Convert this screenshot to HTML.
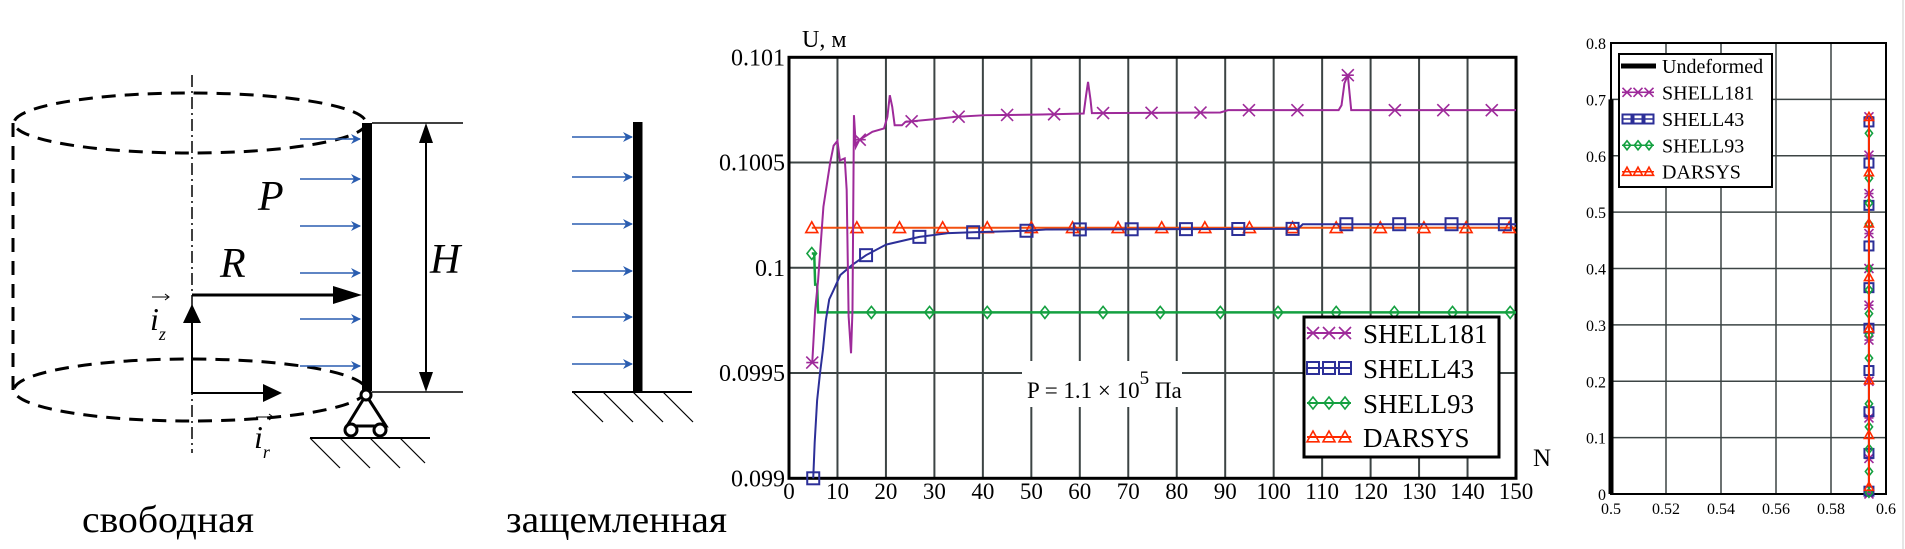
<!DOCTYPE html>
<html><head><meta charset="utf-8"><style>
html,body{margin:0;padding:0;background:#fff;}
svg{display:block;}
text{font-family:"Liberation Serif","Noto Serif CJK SC",serif;}
</style></head><body>
<svg id="root" width="1905" height="549" viewBox="0 0 1905 549" xmlns="http://www.w3.org/2000/svg">
<defs>
<marker id="blueHead" markerWidth="10" markerHeight="10" refX="9" refY="5" orient="auto" markerUnits="userSpaceOnUse"><path d="M0,0 L10,5 L0,10 L3,5 Z" fill="#2a5db0"/></marker>
</defs>
<rect width="1905" height="549" fill="#fff"/>

<g>
  <ellipse cx="190" cy="123" rx="176" ry="30" fill="none" stroke="#000" stroke-width="3" stroke-dasharray="14,9"/>
  <ellipse cx="190" cy="390" rx="176" ry="31" fill="none" stroke="#000" stroke-width="3" stroke-dasharray="14,9"/>
  <line x1="13" y1="123" x2="13" y2="390" stroke="#000" stroke-width="3" stroke-dasharray="14,9"/>
  <line x1="192" y1="75" x2="192" y2="453" stroke="#000" stroke-width="1.5" stroke-dasharray="12,4,2,4"/>
  <rect x="362" y="123" width="10" height="268" fill="#000"/>
  <g stroke="#2a5db0" stroke-width="1.6">
    <line x1="300" y1="139" x2="360" y2="139" marker-end="url(#blueHead)"/>
    <line x1="300" y1="179" x2="360" y2="179" marker-end="url(#blueHead)"/>
    <line x1="300" y1="226" x2="360" y2="226" marker-end="url(#blueHead)"/>
    <line x1="300" y1="273" x2="360" y2="273" marker-end="url(#blueHead)"/>
    <line x1="300" y1="319" x2="360" y2="319" marker-end="url(#blueHead)"/>
    <line x1="300" y1="366" x2="360" y2="366" marker-end="url(#blueHead)"/>
  </g>
  <text x="258" y="210" font-size="42" font-style="italic">P</text>
  <text x="220" y="277" font-size="42" font-style="italic">R</text>
  <line x1="192" y1="295" x2="335" y2="295" stroke="#000" stroke-width="3"/>
  <path d="M333,286 L362,295 L333,304 Z" fill="#000"/>
  <line x1="192" y1="393" x2="192" y2="320" stroke="#000" stroke-width="2"/>
  <path d="M183,323 L192,304 L201,323 Z" fill="#000"/>
  <line x1="192" y1="393" x2="265" y2="393" stroke="#000" stroke-width="2"/>
  <path d="M263,384 L282,393 L263,402 Z" fill="#000"/>
  <text x="150" y="330" font-size="32" font-style="italic">i<tspan font-size="18" dy="10">z</tspan></text>
  <line x1="152" y1="297" x2="168" y2="297" stroke="#000" stroke-width="1"/><path d="M165,294 L169,297 L165,300" fill="none" stroke="#000" stroke-width="1"/>
  <text x="254" y="448" font-size="32" font-style="italic">i<tspan font-size="18" dy="10">r</tspan></text>
  <line x1="256" y1="417" x2="272" y2="417" stroke="#000" stroke-width="1"/><path d="M269,414 L273,417 L269,420" fill="none" stroke="#000" stroke-width="1"/>
  <g fill="#fff" stroke="#000" stroke-width="3">
    <path d="M366,395 L347,426 L386,426 Z"/>
    <circle cx="366" cy="395" r="5"/>
    <circle cx="351" cy="430" r="6"/>
    <circle cx="380" cy="430" r="6"/>
  </g>
  <line x1="310" y1="438" x2="430" y2="438" stroke="#000" stroke-width="2"/>
  <g stroke="#000" stroke-width="1.2"><line x1="310" y1="438" x2="340" y2="468"/><line x1="340" y1="438" x2="370" y2="468"/><line x1="370" y1="438" x2="400" y2="468"/><line x1="400" y1="438" x2="425" y2="463"/></g>
  <line x1="372" y1="123" x2="463" y2="123" stroke="#000" stroke-width="1.5"/>
  <line x1="372" y1="392" x2="463" y2="392" stroke="#000" stroke-width="1.5"/>
  <line x1="426" y1="135" x2="426" y2="380" stroke="#000" stroke-width="2"/>
  <path d="M419,143 L426,123 L433,143 Z" fill="#000"/>
  <path d="M419,372 L426,392 L433,372 Z" fill="#000"/>
  <text x="430" y="273" font-size="42" font-style="italic">H</text>
  <text x="82" y="532" font-size="38" textLength="172" lengthAdjust="spacingAndGlyphs">свободная</text>
</g>

<g>
  <rect x="633" y="122" width="9.5" height="270" fill="#000"/>
  <g stroke="#2a5db0" stroke-width="1.6">
    <line x1="572" y1="137" x2="632" y2="137" marker-end="url(#blueHead)"/>
    <line x1="572" y1="177" x2="632" y2="177" marker-end="url(#blueHead)"/>
    <line x1="572" y1="224" x2="632" y2="224" marker-end="url(#blueHead)"/>
    <line x1="572" y1="271" x2="632" y2="271" marker-end="url(#blueHead)"/>
    <line x1="572" y1="317" x2="632" y2="317" marker-end="url(#blueHead)"/>
    <line x1="572" y1="364" x2="632" y2="364" marker-end="url(#blueHead)"/>
  </g>
  <line x1="572" y1="392" x2="692" y2="392" stroke="#000" stroke-width="2"/>
  <g stroke="#000" stroke-width="1.2"><line x1="573" y1="392" x2="603" y2="422"/><line x1="603" y1="392" x2="633" y2="422"/><line x1="633" y1="392" x2="663" y2="422"/><line x1="663" y1="392" x2="693" y2="422"/></g>
  <text x="506" y="532" font-size="38" textLength="221" lengthAdjust="spacingAndGlyphs">защемленная</text>
</g>

<g id="mainChart"></g>
<g id="rightChart"></g>
<line x1="1903" y1="0" x2="1903" y2="549" stroke="#ccc" stroke-width="1"/>
</svg>

<script>
const xTicks = [0,10,20,30,40,50,60,70,80,90,100,110,120,130,140,150];
const yTicks = [0.099,0.0995,0.1,0.1005,0.101];
const yTickLabels = ["0.099","0.0995","0.1","0.1005","0.101"];
const seriesNames = ["SHELL181","SHELL43","SHELL93","DARSYS"];

const s181N = [4.8,5.4,6.0,7.1,8.5,9.2,10.0,10.5,11.5,11.9,12.3,12.8,13.1,13.4,13.8,14.5,17.2,19.6,20.3,20.8,21.3,21.8,23.3,24,29.5,34.3,40.5,52.2,60.8,61.3,61.7,62.2,62.5,89,90.6,113.4,114,114.6,115.3,115.7,116.0,150];
const s181U = [0.09955,0.0998,0.09994,0.10029,0.1005,0.10058,0.100603,0.10051,0.10052,0.10037,0.09977,0.099594,0.0998,0.100725,0.100575,0.100607,0.100646,0.100662,0.100717,0.10082,0.100765,0.100677,0.100677,0.100693,0.100705,0.100717,0.100725,0.100728,0.100733,0.10082,0.100883,0.1008,0.100735,0.100738,0.100749,0.100749,0.100772,0.100876,0.100915,0.10082,0.100749,0.100749];
const s181Marks = [4.8,14.6,25.3,35,45,54.7,64.8,74.8,84.9,94.9,104.9,115.3,125,135,145];

const s43N = [5,5.3,5.8,6.4,7.0,7.6,8.3,9.2,10.6,13,15.9,20,26.9,33,38,49,53,105,106,150];
const s43U = [0.099,0.09917,0.09937,0.0995,0.09961,0.09975,0.09985,0.099894,0.099966,0.100013,0.10006,0.10011,0.100147,0.100165,0.100169,0.100176,0.100182,0.100185,0.100207,0.100207];
const s43Marks = [5,15.9,26.9,38,49,60,70.7,81.9,92.7,103.9,115,125.9,136.7,147.7];

const s93N = [4.7,5.2,5.4,5.8,6.0,7,150];
const s93U = [0.100068,0.100068,0.09992,0.09992,0.099788,0.099788,0.099788];
const s93Marks = [4.7,17,29,40.9,52.8,64.8,76.6,89,100.9,112.9,124.9,136.9,148.8];

const darN = [4.7,150];
const darU = [0.10019,0.10019];
const darMarks = [4.7,14,22.8,31.7,40.9,50,58.5,67.9,76.9,85.8,95,103.9,112.9,122,131,139.7,148.6];

const rxTicks = [0.5,0.52,0.54,0.56,0.58,0.6];
const rxTickLabels = ["0.5","0.52","0.54","0.56","0.58","0.6"];
const ryTicks = [0,0.1,0.2,0.3,0.4,0.5,0.6,0.7,0.8];
const undeformedX = [0.5,0.5];
const undeformedY = [0,0.7];
const r181X = 0.5938, r43X = 0.5938, r93X = 0.5938, rDarX = 0.5938;
const r181Y = [0.669,0.601,0.533,0.462,0.40,0.335,0.273,0.20,0.135,0.063,0.0];
const r43Y = [0.660,0.587,0.512,0.44,0.366,0.294,0.219,0.146,0.072,0.005];
const r93Y = [0.640,0.560,0.516,0.479,0.40,0.362,0.320,0.282,0.241,0.160,0.119,0.080,0.040,0.002];
const rDarY = [0.669,0.571,0.480,0.385,0.294,0.202,0.105,0.013];

const NS = "http://www.w3.org/2000/svg";
function el(tag, attrs, parent){
  const e = document.createElementNS(NS, tag);
  for (const k in attrs) e.setAttribute(k, attrs[k]);
  parent.appendChild(e);
  return e;
}
const COL = {p:"#9e2a9a", b:"#2c2f98", g:"#14a040", r:"#ff2a00", rl:"#f25010", grid:"#3c4444"};

function marker(type, cx, cy, s, color, parent){
  let m;
  if (type==="x"){
    m = el("path",{d:`M${cx-s},${cy-s}L${cx+s},${cy+s}M${cx-s},${cy+s}L${cx+s},${cy-s}M${cx-s},${cy}L${cx+s},${cy}`,stroke:color,"stroke-width":1.6,fill:"none"},parent);
  } else if (type==="sq"){
    m = el("rect",{x:cx-s,y:cy-s,width:2*s,height:2*s,stroke:color,"stroke-width":2,fill:"none"},parent);
  } else if (type==="dm"){
    m = el("path",{d:`M${cx},${cy-s}L${cx+s*0.8},${cy}L${cx},${cy+s}L${cx-s*0.8},${cy}Z`,stroke:color,"stroke-width":1.6,fill:"none"},parent);
  } else {
    m = el("path",{d:`M${cx-s},${cy+s*0.8}L${cx},${cy-s}L${cx+s},${cy+s*0.8}Z`,stroke:color,"stroke-width":1.6,fill:"none"},parent);
  }
  
  
  return m;
}
function interp(xs, ys, x){
  if (x<=xs[0]) return ys[0];
  for (let i=1;i<xs.length;i++){ if (x<=xs[i]){ const t=(x-xs[i-1])/(xs[i]-xs[i-1]); return ys[i-1]+t*(ys[i]-ys[i-1]); } }
  return ys[ys.length-1];
}

(function(){
  const g = document.getElementById("mainChart");
  const L=789, R=1516, T=57.3, B=478.3;
  const xm = n => L + (n-0)/(150-0)*(R-L);
  const ym = v => B - (v-0.099)/(0.101-0.099)*(B-T);
  const grid = el("g",{},g);
  
  
  xTicks.forEach(t=>{ if(t>0&&t<150) el("line",{x1:xm(t),y1:T,x2:xm(t),y2:B,stroke:COL.grid,"stroke-width":2},grid); });
  yTicks.forEach(t=>{ if(t>0.099&&t<0.101) el("line",{x1:L,y1:ym(t),x2:R,y2:ym(t),stroke:COL.grid,"stroke-width":2},grid); });
  el("rect",{x:1022,y:361,width:160,height:46,fill:"#fff"},g);
  const frame = el("rect",{x:L,y:T,width:R-L,height:B-T,fill:"none",stroke:"#000","stroke-width":3},g);
  
  
  xTicks.forEach(t=>{
    const tx = el("text",{x:xm(t),y:499,"font-size":23,"text-anchor":"middle"},g);
    tx.textContent = t;
    
    
  });
  yTicks.forEach((t,i)=>{
    const tx = el("text",{x:785,y:ym(t)+8,"font-size":24,"text-anchor":"end"},g);
    tx.textContent = yTickLabels[i];
    
    
  });
  const yt = el("text",{x:802,y:47,"font-size":24},g); yt.textContent="U, м";
  
  
  const xt = el("text",{x:1533,y:466,"font-size":25},g); xt.textContent="N";
  
  
  const ann = el("text",{x:1027,y:398,"font-size":23},g);
  ann.innerHTML = 'P = 1.1 × 10<tspan dy="-14" font-size="19">5</tspan><tspan dy="14"> Па</tspan>';
  
  

  const series = [
    {n:s181N,u:s181U,m:s181Marks,c:COL.p,t:"x",w:2,name:"series-shell181"},
    {n:s43N,u:s43U,m:s43Marks,c:COL.b,t:"sq",w:2,name:"series-shell43"},
    {n:s93N,u:s93U,m:s93Marks,c:COL.g,t:"dm",w:2.5,name:"series-shell93"},
    {n:darN,u:darU,m:darMarks,c:COL.rl,t:"tr",w:2,name:"series-darsys"}
  ];
  [3,2,1,0].forEach(i=>{
    const s = series[i];
    const sg = el("g",{},g);
    
    
    const pts = s.n.map((n,k)=>xm(n)+","+ym(s.u[k])).join(" ");
    el("polyline",{points:pts,fill:"none",stroke:s.c,"stroke-width":s.w},sg);
    const mc = i===3 ? COL.r : s.c;
    s.m.forEach(n=>marker(s.t, xm(n), ym(interp(s.n,s.u,n)), 6, mc, sg));
  });

  const lg = el("g",{},g);
  
  
  el("rect",{x:1304,y:317,width:195,height:140,fill:"#fff",stroke:"#000","stroke-width":3},lg);
  const rows=[333,368,403,437];
  series.forEach((s,i)=>{
    const e = el("g",{},lg);
    
    
    const c = i===3?COL.r:s.c;
    el("line",{x1:1307,y1:rows[i],x2:1351,y2:rows[i],stroke:c,"stroke-width":2},e);
    [1313,1329,1345].forEach(x=>marker(s.t,x,rows[i],6,c,e));
    const tx = el("text",{x:1363,y:rows[i]+10,"font-size":27},e);
    tx.textContent = seriesNames[i];
  });
})();

(function(){
  const g = document.getElementById("rightChart");
  const L=1611, R=1886, T=43, B=494;
  const xr = v => L + (v-0.5)/(0.6-0.5)*(R-L);
  const yr = v => B - (v-0)/(0.8-0)*(B-T);
  const grid = el("g",{},g);
  
  
  rxTicks.forEach(t=>{ if(t>0.5&&t<0.6) el("line",{x1:xr(t),y1:T,x2:xr(t),y2:B,stroke:COL.grid,"stroke-width":1.5},grid); });
  ryTicks.forEach(t=>{ if(t>0&&t<0.8) el("line",{x1:L,y1:yr(t),x2:R,y2:yr(t),stroke:COL.grid,"stroke-width":1.5},grid); });
  el("rect",{x:L,y:T,width:R-L,height:B-T,fill:"none",stroke:"#000","stroke-width":2},g);
  rxTicks.forEach((t,i)=>{
    const tx = el("text",{x:xr(t),y:514,"font-size":16,"text-anchor":"middle"},g);
    tx.textContent = rxTickLabels[i];
    
    
  });
  ryTicks.forEach(t=>{
    const tx = el("text",{x:1606,y:yr(t)+6,"font-size":16,"text-anchor":"end"},g);
    tx.textContent = String(t);
    
    
  });
  const und = el("line",{x1:xr(undeformedX[0]),y1:yr(undeformedY[0]),x2:xr(undeformedX[1]),y2:yr(undeformedY[1]),stroke:"#000","stroke-width":5},g);
  
  
  const rs = [
    {x:r181X,y:r181Y,c:COL.p,t:"x",name:"right-series-shell181"},
    {x:r43X,y:r43Y,c:COL.b,t:"sq",name:"right-series-shell43"},
    {x:r93X,y:r93Y,c:COL.g,t:"dm",name:"right-series-shell93"},
    {x:rDarX,y:rDarY,c:COL.r,t:"tr",name:"right-series-darsys"}
  ];
  rs.forEach(s=>{
    const sg = el("g",{},g);
    
    
    const ymax = Math.max(...s.y), ymin = Math.min(...s.y);
    el("line",{x1:xr(s.x),y1:yr(ymin),x2:xr(s.x),y2:yr(ymax),stroke:s.c,"stroke-width":2},sg);
    s.y.forEach(v=>marker(s.t,xr(s.x),yr(v),4.5,s.c,sg));
  });
  const lg = el("g",{},g);
  
  
  el("rect",{x:1619,y:54,width:153,height:133,fill:"#fff",stroke:"#000","stroke-width":2},lg);
  const names = ["Undeformed"].concat(seriesNames);
  const rows=[66,92.3,119,145.3,171.7];
  names.forEach((nm,i)=>{
    const e = el("g",{},lg);
    
    
    if (i===0){ el("line",{x1:1621,y1:rows[i],x2:1656,y2:rows[i],stroke:"#000","stroke-width":5},e); }
    else {
      const s = rs[i-1];
      el("line",{x1:1622,y1:rows[i],x2:1654,y2:rows[i],stroke:s.c,"stroke-width":1.5},e);
      [1627,1638,1649].forEach(x=>marker(s.t,x,rows[i],4.5,s.c,e));
    }
    const tx = el("text",{x:1662,y:rows[i]+7,"font-size":20},e);
    tx.textContent = nm;
  });
})();
</script>
</body></html>
